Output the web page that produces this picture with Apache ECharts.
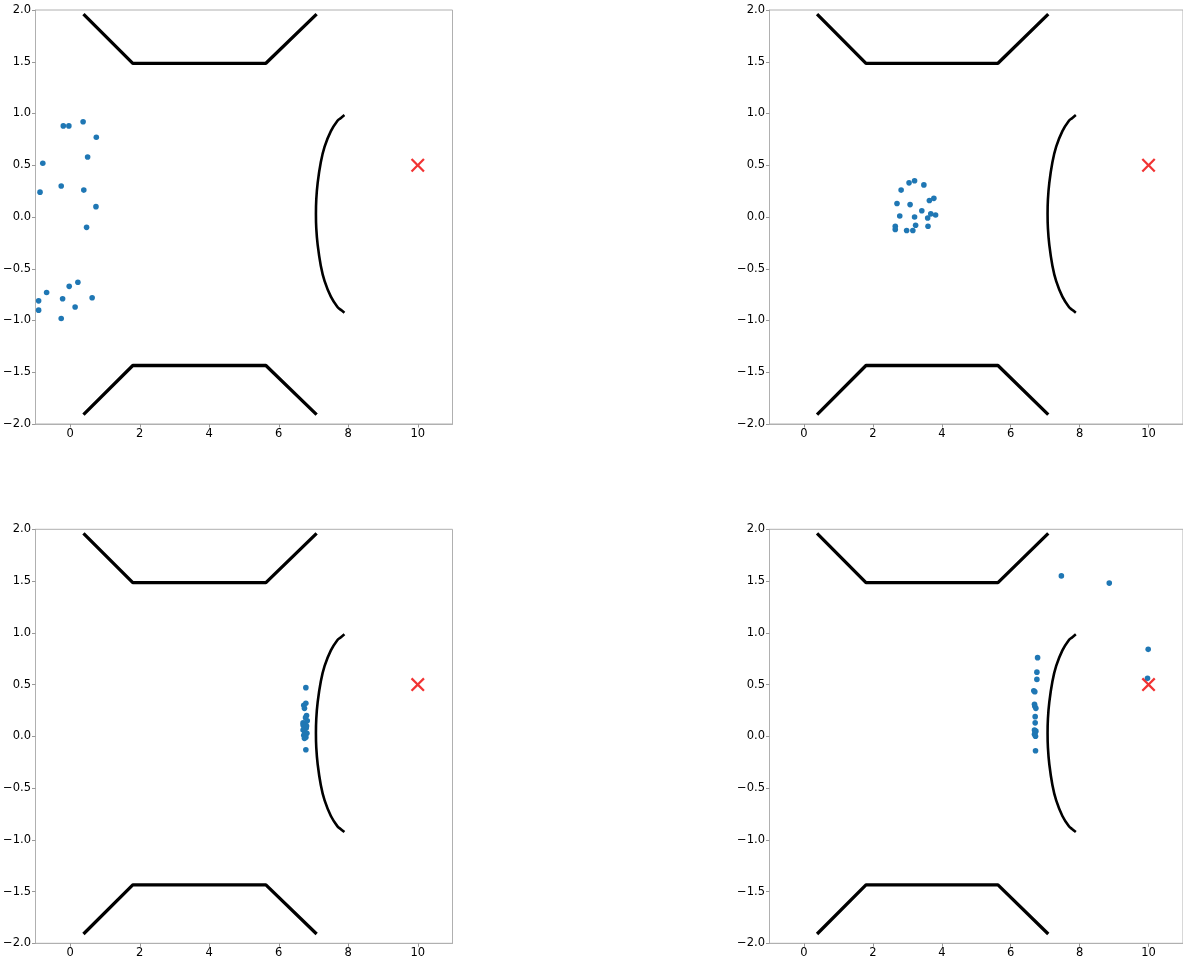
<!DOCTYPE html>
<html>
<head>
<meta charset="utf-8">
<script src="https://cdn.jsdelivr.net/npm/echarts@6/dist/echarts.min.js"></script>
<style>
  html, body { margin: 0; padding: 0; background: #fff; overflow: hidden; }
  #chart { width: 1183px; height: 961px; }
</style>
</head>
<body>
<div id="chart"></div>
<script>
// Axis extents and tick labels shared by all four panels
const xRange = [-1, 11];
const yRange = [-2, 2];
const xTicks = [0, 2, 4, 6, 8, 10];
const yStep = 0.5;

// Channel walls (polyline vertices) and the curved mirror
const wallTop = [[0.38, 1.96], [1.80, 1.485], [5.63, 1.485], [7.09, 1.96]];
const wallBottom = [[0.38, -1.91], [1.80, -1.435], [5.63, -1.435], [7.09, -1.91]];
const mirror = [
  [7.89, 0.985], [7.78, 0.955], [7.69, 0.93], [7.50, 0.83], [7.32, 0.68],
  [7.21, 0.53], [7.12, 0.33], [7.08, 0.17], [7.07, 0.03], [7.08, -0.11],
  [7.12, -0.27], [7.21, -0.47], [7.32, -0.62], [7.50, -0.77], [7.69, -0.87],
  [7.78, -0.895], [7.89, -0.925]
];

// Target position
const target = [[10, 0.5]];

// Particle positions at four stages
const particlesA = [
  [-0.20, 0.88], [-0.04, 0.88], [0.37, 0.92], [0.75, 0.77], [-0.79, 0.52],
  [0.50, 0.58], [-0.87, 0.24], [-0.26, 0.30], [0.39, 0.26], [0.74, 0.10],
  [0.47, -0.10], [0.22, -0.63], [-0.03, -0.67], [-0.68, -0.73], [-0.91, -0.81],
  [-0.22, -0.79], [0.63, -0.78], [0.14, -0.87], [-0.91, -0.90], [-0.26, -0.98]
];
const particlesB = [
  [3.05, 0.33], [3.21, 0.35], [3.48, 0.31], [2.82, 0.26], [3.77, 0.18],
  [3.64, 0.16], [2.70, 0.13], [3.08, 0.12], [3.42, 0.06], [3.68, 0.03],
  [3.82, 0.02], [3.59, -0.01], [2.78, 0.01], [3.21, 0.00], [3.24, -0.08],
  [3.60, -0.09], [2.65, -0.09], [2.65, -0.12], [2.98, -0.13], [3.16, -0.13]
];
const particlesC = [
  [6.78, 0.47], [6.72, 0.30], [6.78, 0.32], [6.74, 0.27], [6.80, 0.20],
  [6.77, 0.18], [6.70, 0.13], [6.76, 0.12], [6.82, 0.15], [6.73, 0.09],
  [6.79, 0.08], [6.70, 0.06], [6.75, 0.04], [6.81, 0.03], [6.72, 0.01],
  [6.78, -0.01], [6.74, -0.02], [6.80, 0.10], [6.70, 0.11], [6.78, -0.13]
];
const particlesD = [
  [7.47, 1.55], [8.86, 1.48], [9.99, 0.84], [9.97, 0.56], [6.78, 0.76],
  [6.76, 0.62], [6.76, 0.55], [6.67, 0.44], [6.70, 0.43], [6.69, 0.31],
  [6.73, 0.27], [6.71, 0.19], [6.71, 0.13], [6.69, 0.06], [6.73, 0.05],
  [6.69, 0.02], [6.72, 0.00], [6.72, -0.14], [6.70, 0.29], [6.71, 0.04]
];

const panels = [particlesA, particlesB, particlesC, particlesD];

const gridBoxes = [
  { left: 35.5, top: 10, width: 417, height: 414 },
  { left: 769.5, top: 10, width: 417, height: 414 },
  { left: 35.5, top: 529.3, width: 417, height: 414 },
  { left: 769.5, top: 529.3, width: 417, height: 414 }
];

const axisGray = '#b0b0b0';
const labelFont = { fontFamily: 'DejaVu Sans', fontSize: 11.5, color: '#000' };
const minus = s => String(s).replace('-', '\u2212');

// An "x" marker drawn as a filled outline
const crossPath = 'path://M0,1.6 L1.6,0 L7,5.4 L12.4,0 L14,1.6 L8.6,7 L14,12.4 L12.4,14 L7,8.6 L1.6,14 L0,12.4 L5.4,7 Z';

const grid = [], xAxis = [], yAxis = [], series = [];

panels.forEach((pts, i) => {
  grid.push(Object.assign({ show: true, borderColor: axisGray, borderWidth: 1, containLabel: false }, gridBoxes[i]));
  xAxis.push({
    type: 'value', gridIndex: i, min: xRange[0], max: xRange[1],
    splitLine: { show: false },
    axisLine: { show: true, onZero: false, lineStyle: { color: axisGray, width: 1 } },
    axisTick: { show: true, customValues: xTicks, length: 3.5, lineStyle: { color: '#999' } },
    axisLabel: Object.assign({ customValues: xTicks, margin: 4, formatter: v => minus(v) }, labelFont)
  });
  yAxis.push({
    type: 'value', gridIndex: i, min: yRange[0], max: yRange[1], interval: yStep,
    splitLine: { show: false },
    axisLine: { show: true, onZero: false, lineStyle: { color: axisGray, width: 1 } },
    axisTick: { show: true, length: 3.5, lineStyle: { color: '#999' } },
    axisLabel: Object.assign({ margin: 4.5, formatter: v => minus(v.toFixed(1)) }, labelFont)
  });

  const wallStyle = { color: '#000', width: 3.3 };
  series.push({
    type: 'line', xAxisIndex: i, yAxisIndex: i, data: wallTop,
    symbol: 'none', lineStyle: wallStyle, silent: true, z: 2
  });
  series.push({
    type: 'line', xAxisIndex: i, yAxisIndex: i, data: wallBottom,
    symbol: 'none', lineStyle: wallStyle, silent: true, z: 2
  });
  series.push({
    type: 'line', xAxisIndex: i, yAxisIndex: i, data: mirror, smooth: 0.35,
    symbol: 'none', lineStyle: { color: '#000', width: 2.6 }, silent: true, z: 2
  });
  series.push({
    type: 'scatter', xAxisIndex: i, yAxisIndex: i, data: pts,
    symbolSize: 5.6, itemStyle: { color: '#1f77b4', opacity: 1 }, z: 3
  });
  series.push({
    type: 'scatter', xAxisIndex: i, yAxisIndex: i, data: target,
    symbol: crossPath, symbolSize: 14, itemStyle: { color: '#ee0000' }, z: 4
  });
});

const chart = echarts.init(document.getElementById('chart'), null, { renderer: 'canvas' });
chart.setOption({ animation: false, backgroundColor: '#fff', grid, xAxis, yAxis, series });
</script>
</body>
</html>
